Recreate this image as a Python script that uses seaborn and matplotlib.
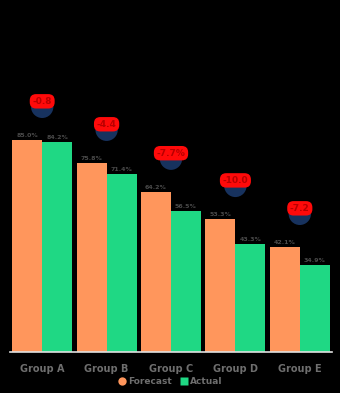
import matplotlib
matplotlib.use("Agg")
import matplotlib.pyplot as plt
import seaborn as sns
import pandas as pd
from matplotlib.markers import MarkerStyle
from matplotlib.lines import Line2D

categories = ["Group A", "Group B", "Group C", "Group D", "Group E"]
series_names = ["Forecast", "Actual"]
forecast = [85.0, 75.8, 64.2, 53.3, 42.1]
actual = [84.2, 71.4, 56.5, 43.3, 34.9]
forecast_labels = ["85.0%", "75.8%", "64.2%", "53.3%", "42.1%"]
actual_labels = ["84.2%", "71.4%", "56.5%", "43.3%", "34.9%"]
gap_labels = ["-0.8", "-4.4", "-7.7%", "-10.0", "-7.2"]

df = pd.DataFrame({
    "category": categories * 2,
    "series": [series_names[0]] * 5 + [series_names[1]] * 5,
    "value": forecast + actual,
})

sns.set_theme(style="white")
plt.rcParams["font.family"] = ["DejaVu Sans"]

fig = plt.figure(figsize=(3.40, 3.93), dpi=100)
fig.patch.set_facecolor("black")
ax = fig.add_axes([10 / 340, 1 - 352 / 393, 322 / 340, 332 / 393])
ax.set_facecolor("black")

palette = {"Forecast": "#ff965c", "Actual": "#1fd884"}
sns.barplot(data=df, x="category", y="value", hue="series", palette=palette,
            width=0.93, gap=0, dodge=True, ax=ax, legend=False,
            edgecolor="none", saturation=1)

ax.set_xlim(-0.5, 4.5)
ax.set_ylim(0, 133.1)
for s in ["top", "right", "left"]:
    ax.spines[s].set_visible(False)
ax.spines["bottom"].set_color("#e0e0e0")
ax.spines["bottom"].set_linewidth(1.2)
ax.set_yticks([])
ax.set_xlabel("")
ax.set_ylabel("")
ax.tick_params(axis="x", length=0, pad=9, labelsize=7, colors="#6e6e6e")
for t in ax.get_xticklabels():
    t.set_fontweight("bold")

off = 0.93 / 4
for i in range(5):
    ax.text(i - off, forecast[i] + 0.8, forecast_labels[i], ha="center", va="bottom",
            fontsize=4.5, color="#4a4a4a", fontweight="bold")
    ax.text(i + off, actual[i] + 0.8, actual_labels[i], ha="center", va="bottom",
            fontsize=4.5, color="#4a4a4a", fontweight="bold")
    by = forecast[i] + 15.5
    ax.scatter([i], [by - 2.2], s=260, marker=MarkerStyle("o", fillstyle="bottom"),
               color="#17325e", edgecolors="none", zorder=3)
    ax.text(i, by, gap_labels[i], ha="center", va="center", fontsize=6.5,
            color="#b80000", fontweight="bold", zorder=4,
            bbox=dict(boxstyle="round,pad=0.3,rounding_size=0.7",
                      fc="#ff0a0a", ec="none"))

handles = [
    Line2D([0], [0], marker="o", linestyle="none", markersize=6,
           markerfacecolor=palette["Forecast"], markeredgecolor="none"),
    Line2D([0], [0], marker="s", linestyle="none", markersize=6,
           markerfacecolor=palette["Actual"], markeredgecolor="none"),
]
leg = fig.legend(handles, series_names, loc="center", bbox_to_anchor=(170 / 340, 1 - 382 / 393),
                 ncol=2, frameon=False, fontsize=6.5, handletextpad=0.2,
                 columnspacing=0.8, handlelength=1.0)
for t in leg.get_texts():
    t.set_color("#6e6e6e")
    t.set_fontweight("bold")

fig.savefig("out.png", dpi=100, facecolor="black")
